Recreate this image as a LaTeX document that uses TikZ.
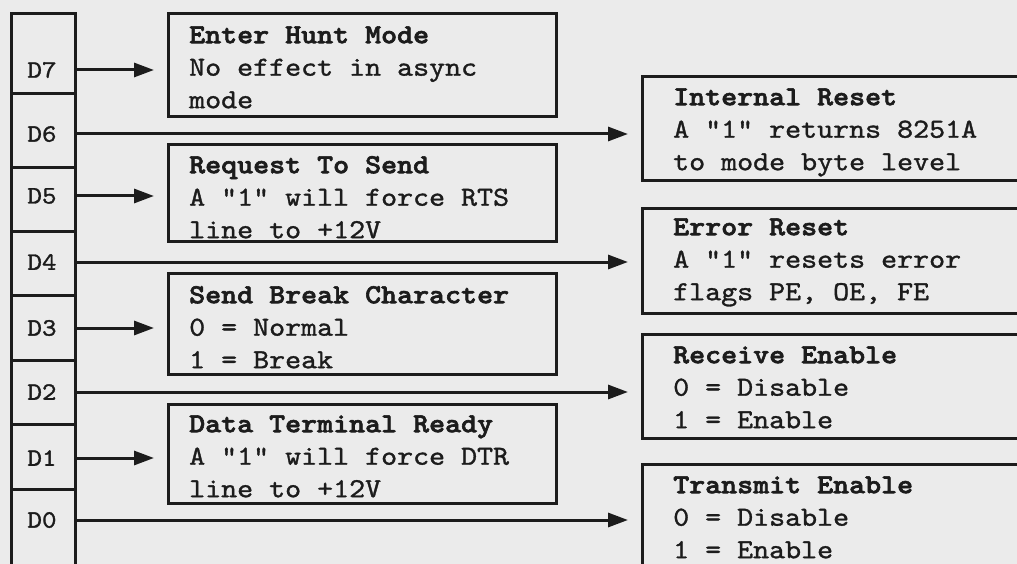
\documentclass[tikz,border=0pt]{standalone}
\usepackage{fontspec}
\newfontfamily\tw{lmmono10-regular.otf}[FakeStretch=1.108, FakeBold=1.2]
\newfontfamily\twb{lmmonolt10-bold.otf}[FakeStretch=1.108, FakeBold=2.2]
\usetikzlibrary{arrows.meta}
\definecolor{bg}{HTML}{EBEBEB}
\definecolor{ink}{HTML}{1C1C1C}
\begin{document}
\begin{tikzpicture}[x=1pt,y=-1pt,
  frame/.style={draw=ink, line width=3.2pt, inner sep=0pt, minimum width=388pt, anchor=north west},
  txt/.style={inner sep=0pt, anchor=north west, align=left, text=ink, font=\tw\fontsize{27.5}{32.5}\selectfont},
  lab/.style={inner sep=0pt, text=ink, font=\tw\fontsize{25}{28}\selectfont},
  arr/.style={draw=ink, line width=3pt, -{Triangle[length=20pt,width=14pt]}, shorten >=13pt},
  sep/.style={draw=ink, line width=3pt}]
\clip (0,0) rectangle (1017,564);
\fill[bg] (0,0) rectangle (1017,564);
% register column
\node[draw=ink, line width=3.2pt, minimum width=64pt, minimum height=600pt, anchor=north west, inner sep=0pt] (col) at (10,12) {};
\foreach \y in {94,168,231,295,360,424,489} \draw[sep] (10,\y) -- (74,\y);
\node[lab] (d7) at (42,70) {D7};
\node[lab] (d6) at (42,134) {D6};
\node[lab] (d5) at (42,196) {D5};
\node[lab] (d4) at (42,262) {D4};
\node[lab] (d3) at (42,328) {D3};
\node[lab] (d2) at (42,392) {D2};
\node[lab] (d1) at (42,458) {D1};
\node[lab] (d0) at (42,520) {D0};
% left boxes
\node[frame, minimum height=103pt] (b7) at (167,12) {};
\node[frame, minimum height=97pt] (b5) at (167,143) {};
\node[frame, minimum height=101pt] (b3) at (167,272) {};
\node[frame, minimum height=99pt] (b1) at (167,403) {};
% right boxes
\node[frame, minimum width=400pt, minimum height=104pt] (b6) at (641,75) {};
\node[frame, minimum width=400pt, minimum height=105pt] (b4) at (641,207) {};
\node[frame, minimum width=400pt, minimum height=104pt] (b2) at (641,333) {};
\node[frame, minimum width=400pt, minimum height=130pt] (b0) at (641,463) {};
% texts
\node[txt] (t7) at (189,20) {\rule{0pt}{23pt}{\twb Enter Hunt Mode}\\No effect in async\\mode};
\node[txt] (t5) at (189,150) {\rule{0pt}{23pt}{\twb Request To Send}\\A "1" will force RTS\\line to +12V};
\node[txt] (t3) at (189,280) {\rule{0pt}{23pt}{\twb Send Break Character}\\0 = Normal\\1 = Break};
\node[txt] (t1) at (189,409) {\rule{0pt}{23pt}{\twb Data Terminal Ready}\\A "1" will force DTR\\line to +12V};
\node[txt] (t6) at (673,82) {\rule{0pt}{23pt}{\twb Internal Reset}\\A "1" returns 8251A\\to mode byte level};
\node[txt] (t4) at (673,212) {\rule{0pt}{23pt}{\twb Error Reset}\\A "1" resets error\\flags PE, OE, FE};
\node[txt] (t2) at (673,340) {\rule{0pt}{23pt}{\twb Receive Enable}\\0 = Disable\\1 = Enable};
\node[txt] (t0) at (673,470) {\rule{0pt}{23pt}{\twb Transmit Enable}\\0 = Disable\\1 = Enable};
% arrows
\draw[arr] (d7 -| col.east) -- (d7 -| b7.west);
\draw[arr] (d6 -| col.east) -- (d6 -| b6.west);
\draw[arr] (d5 -| col.east) -- (d5 -| b5.west);
\draw[arr] (d4 -| col.east) -- (d4 -| b4.west);
\draw[arr] (d3 -| col.east) -- (d3 -| b3.west);
\draw[arr] (d2 -| col.east) -- (d2 -| b2.west);
\draw[arr] (d1 -| col.east) -- (d1 -| b1.west);
\draw[arr] (d0 -| col.east) -- (d0 -| b0.west);
\end{tikzpicture}
\end{document}
